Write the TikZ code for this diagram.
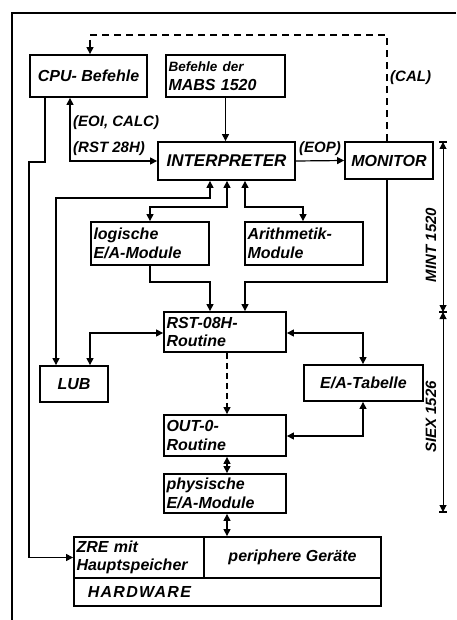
\documentclass[tikz,border=0pt]{standalone}
\usepackage{fontspec}
\setmainfont{Liberation Sans}
\usetikzlibrary{arrows.meta}
\begin{document}
\begin{tikzpicture}[x=1pt,y=-1pt,
  box/.style={draw,line width=1.8pt,inner sep=2.5pt,font=\bfseries\itshape\fontsize{16}{18.5}\selectfont},
  lbox/.style={box,align=left},
  conn/.style={line width=1.2pt,{Triangle[length=7pt,width=7pt]}-{Triangle[length=7pt,width=7pt]}},
  to/.style={line width=1.2pt,-{Triangle[length=7pt,width=7pt]}},
  lbl/.style={font=\bfseries\itshape\fontsize{15}{17}\selectfont,inner sep=1pt}]
\useasboundingbox (0,0) rectangle (456,620);
\fill[white] (0,0) rectangle (456,620);
% frame
\draw[line width=1.8pt] (456,13) -- (12,13) -- (12,620);
% boxes
\node[box,minimum width=117pt,minimum height=42pt] (cpu) at (88.5,76) {CPU- Befehle};
\node[lbox,minimum width=119pt,minimum height=42pt,text width=114pt] (mabs) at (225.5,76) {{\fontsize{13.5}{15}\selectfont Befehle der}\\MABS 1520};
\node[box,minimum width=137pt,minimum height=38pt,font=\bfseries\itshape\fontsize{17}{19}\selectfont] (interp) at (226.5,161) {INTERPRETER};
\node[box,minimum width=88pt,minimum height=37pt] (mon) at (389,160.5) {MONITOR};
\node[lbox,minimum width=118pt,minimum height=43pt,text width=113pt] (logic) at (150,243.5) {logische\\E/A-Module};
\node[lbox,minimum width=118pt,minimum height=43pt,text width=113pt] (arith) at (304,243.5) {Arithmetik-\\Module};
\node[lbox,minimum width=122pt,minimum height=40pt,text width=117pt] (rst) at (225,332) {RST-08H-\\Routine};
\node[box,minimum width=68pt,minimum height=36pt] (lub) at (74,384) {LUB};
\node[box,minimum width=119pt,minimum height=36pt] (eat) at (363.5,383) {E/A-Tabelle};
\node[lbox,minimum width=122pt,minimum height=41pt,text width=117pt] (out) at (225,435.5) {OUT-0-\\Routine};
\node[lbox,minimum width=122pt,minimum height=39pt,text width=117pt] (phys) at (225,493.5) {physische\\E/A-Module};
\node[lbox,minimum width=130pt,minimum height=41pt,text width=125pt] (zre) at (139,557.5) {ZRE mit\\Hauptspeicher};
\node[box,minimum width=177pt,minimum height=41pt] (per) at (292.5,557.5) {periphere Geräte};
\node[lbox,minimum width=307pt,minimum height=28pt,text width=290pt] (hw) at (227.5,592) {\addfontfeature{LetterSpace=8}\ HARDWARE};
% helper coordinates
\coordinate (k1) at (70,162);
\coordinate (k2) at (29,162);
\coordinate (k3) at (56,198);
\coordinate (k4) at (150,207);
\coordinate (k5) at (303,207);
\coordinate (k6) at (210,282);
\coordinate (k7) at (245,282);
\coordinate (k8) at (90,333);
\coordinate (k9) at (363,333);
\coordinate (d1) at (90,35);
\coordinate (d2) at (387,35);
\coordinate (m1) at (443,142);
\coordinate (m2) at (443,312);
\coordinate (m3) at (443,512);
% connectors
\draw[to] (mabs.south) -- (mabs.south |- interp.north);
\draw[conn] (interp.west) -- (interp.west -| k1) -- (k1 |- cpu.south);
\node[lbl,anchor=west] (t1) at (72,123) {(EOI, CALC)};
\node[lbl,anchor=west] (t2) at (72,149) {(RST 28H)};
\draw[to] (interp.east) -- (mon.west);
\node[lbl,anchor=south] (t3) at (320,157) {(EOP)};
\draw[to] (cpu.south -| 45,0) -- (45,162) -- (k2) -- (k2 |- zre.west) -- (zre.west);
\draw[conn] (interp.south -| 210,0) -- (210,198) -- (k3) -- (k3 |- lub.north);
\draw[conn] (interp.south -| 227,0) -- (227,207) -- (k4) -- (k4 |- logic.north);
\draw[conn] (interp.south -| 245,0) -- (245,207) -- (k5) -- (k5 |- arith.north);
\draw[to] (logic.south) -- (150,282) -- (k6) -- (k6 |- rst.north);
\draw[to] (mon.south -| 387,0) -- (387,282) -- (k7) -- (k7 |- rst.north);
\draw[conn] (rst.west |- k8) -- (k8) -- (k8 |- lub.north);
\draw[conn] (rst.east |- k9) -- (k9) -- (k9 |- eat.north);
\draw[to,dash pattern=on 6pt off 4pt] (rst.south -| 227,0) -- (out.north -| 227,0);
\draw[conn] (out.east |- 0,436) -- (363,436) -- (363,0 |- eat.south);
\draw[conn] (out.south -| 227,0) -- (phys.north -| 227,0);
\draw[conn] (phys.south -| 227,0) -- (227,0 |- per.north);
\draw[to,dash pattern=on 7pt off 5pt] (mon.north -| d2) -- (d2) -- (d1) -- (d1 |- cpu.north);
\node[lbl,anchor=west] (t4) at (389,78) {(CAL)};
% dimension lines
\draw[conn,line width=1pt] (m1) -- (m2);
\draw[conn,line width=1pt] (m2) -- (m3);
\draw[line width=1.2pt] ([xshift=-4pt]m1) -- ([xshift=4pt]m1);
\draw[line width=1.2pt] ([xshift=-4pt]m2) -- ([xshift=4pt]m2);
\draw[line width=1.2pt] ([xshift=-4pt]m3) -- ([xshift=4pt]m3);
\node[lbl,rotate=90] (t5) at (431,245) {MINT 1520};
\node[lbl,rotate=90] (t6) at (431,417) {SIEX 1526};
\end{tikzpicture}
\end{document}
